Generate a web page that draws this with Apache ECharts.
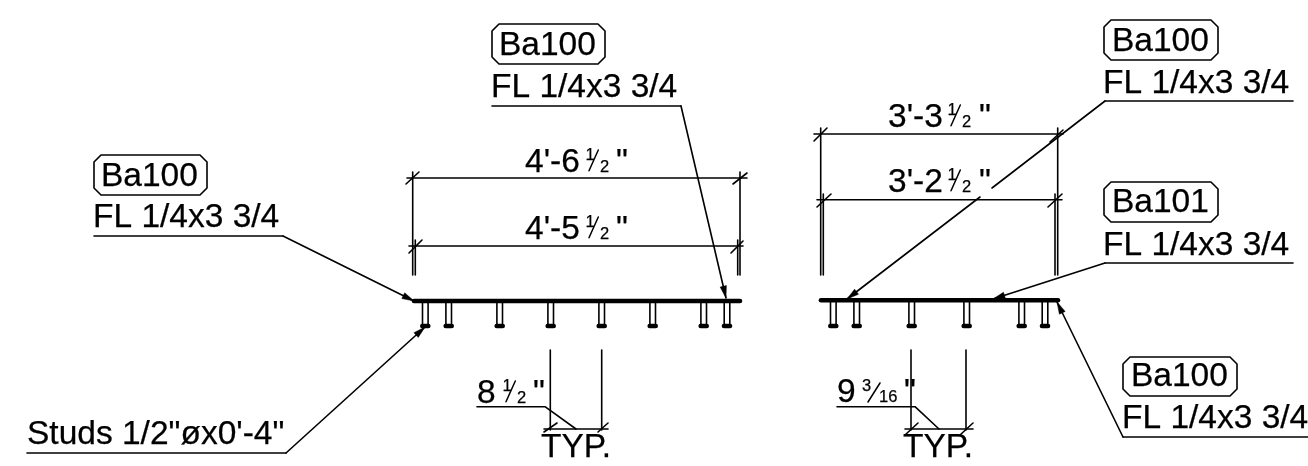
<!DOCTYPE html>
<html><head><meta charset="utf-8">
<style>html,body{margin:0;padding:0;background:#fff}#c{width:1308px;height:466px}</style>
<script src="https://cdn.jsdelivr.net/npm/echarts@6/dist/echarts.min.js"></script>
</head><body><div id="c"></div>
<script>
// Drawing-space readings from the picture: x right, y down.
var largeTexts = [
  [101,187,"Ba100"],[93,228,"FL 1/4x3 3/4"],[27,445,"Studs 1/2\"øx0'-4\""],
  [499,56,"Ba100"],[491,98,"FL 1/4x3 3/4"],
  [1112,52,"Ba100"],[1103,94,"FL 1/4x3 3/4"],
  [1112,213,"Ba101"],[1103,256,"FL 1/4x3 3/4"],
  [1131,387,"Ba100"],[1122,429,"FL 1/4x3 3/4"],
  [525,173,"4'-6"],[616,173,"\""],[525,240,"4'-5"],[616,240,"\""],
  [888,128,"3'-3"],[979,128,"\""],[888,193,"3'-2"],[979,193,"\""],
  [477,404,"8"],[533,404,"\""],[837,403,"9"],[904,403,"\""],
  [541,458,"TYP."],[903,458,"TYP."]
];
var smallTexts = [
  [585.5,161,"1"],[600,173,"2"],[585.5,228,"1"],[600,240,"2"],
  [947.5,116,"1"],[962,128,"2"],[947.5,181,"1"],[962,193,"2"],
  [502.5,392,"1"],[517,404,"2"],
  [862,392,"3"],[879,403,"16"]
];
var labelBoxes = [[94,155,207,195],[492,24,605,64],[1104,20,1218,60],[1104,182,1218,222],[1123,357,1237,396]];
var thinLines = [
  [[94,236],[283,236]],[[27,453],[286,453]],[[492,106],[681,106]],[[1105,101],[1293,101]],[[1105,263],[1293,263]],[[1123,437],[1308,437]],
  [[407,178],[747,178]],[[409,246],[743,246]],
  [[412.7,172],[412.7,275]],[[415.3,240],[415.3,275]],[[740,172],[740,275]],[[737.7,240],[737.7,275]],
  [[406,184],[419,172]],[[409,253],[422,240]],[[733,184],[747,173]],[[731,253],[743,241]],
  [[814,134],[1063,134]],[[817,199.7],[1062,199.7]],
  [[820.7,128],[820.7,275]],[[823.3,194],[823.3,275]],[[1057.7,128],[1057.7,275]],[[1055,194],[1055,275]],
  [[814,141],[827,128]],[[1050,142],[1063,130]],[[817,207],[831,194]],[[1048,207],[1062,194]],
  [[550.3,350],[550.3,430]],[[601.7,350],[601.7,430]],[[544,429],[608,429]],[[544,432],[557,423]],[[598,432],[608,423]],
  [[477,406.7],[545,406.7],[576,429]],
  [[911,350],[911,430]],[[966,350],[966,430]],[[905,429],[973,429]],[[905,435],[918,423]],[[960,435],[973,423]],
  [[837,406.7],[915,406.7],[939,429]],
  [[1105,101],[992,188]]
];
var fractionBars = [
  [[589,170.7],[598.3,150]],[[589,237.7],[598.3,217]],
  [[951,125.7],[960.3,105]],[[951,190.7],[960.3,170]],
  [[506,401.7],[515.3,381]],[[868,402],[880,383]]
];
var leaders = [
  [[283,236],[414,301]],[[286,453],[425,327]],[[681,106],[726,298]],
  [[980,197],[847,299]],[[1105,263],[993,299]],[[1123,437],[1057,302]]
];
var plates = [[[414,301],[740,301]],[[821,300.3],[1058,300.3]]];
var studsLeft = [425.3,448.7,499.7,550.7,601.7,652.7,703.7,727];
var studsRight = [833.3,856.7,911.7,966.7,1021.7,1045];

var INK = '#000';
function lineSeries(list, width){
  return {type:'custom',coordinateSystem:'cartesian2d',clip:false,silent:true,
    data:list.map(function(l){return {value:l[0]};}),
    renderItem:function(p,api){
      return {type:'polyline',shape:{points:list[p.dataIndex].map(function(q){return api.coord(q);})},
        style:{stroke:INK,fill:null,lineWidth:width,lineCap:'round',lineJoin:'round'}};
    }};
}
function textSeries(list,size){
  return {type:'custom',coordinateSystem:'cartesian2d',clip:false,silent:true,
    data:list.map(function(t){return {value:[t[0],t[1]]};}),
    renderItem:function(p,api){
      var t=list[p.dataIndex],c=api.coord([t[0],t[1]]);
      return {type:'text',x:c[0],y:c[1]-0.32*size,
        style:{text:t[2],fontFamily:'"Liberation Sans",Arial,sans-serif',fontSize:size,fill:INK,
          stroke:INK,lineWidth:.25,
          textAlign:'left',textVerticalAlign:'middle',verticalAlign:'middle'}};
    }};
}
function arrowSeries(list){
  return {type:'custom',coordinateSystem:'cartesian2d',clip:false,silent:true,
    data:list.map(function(l){return {value:l[l.length-1]};}),
    renderItem:function(p,api){
      var l=list[p.dataIndex],a=api.coord(l[l.length-2]),b=api.coord(l[l.length-1]);
      var dx=a[0]-b[0],dy=a[1]-b[1],n=Math.hypot(dx,dy);dx/=n;dy/=n;
      var L=12,W=3.2;
      return {type:'polygon',shape:{points:[b,[b[0]+dx*L-dy*W,b[1]+dy*L+dx*W],[b[0]+dx*L+dy*W,b[1]+dy*L-dx*W]]},
        style:{fill:INK,stroke:INK,lineWidth:.5}};
    }};
}
function boxSeries(list){
  return {type:'custom',coordinateSystem:'cartesian2d',clip:false,silent:true,
    data:list.map(function(b){return {value:[b[0],b[1]]};}),
    renderItem:function(p,api){
      var b=list[p.dataIndex],A=api.coord([b[0],b[1]]),B=api.coord([b[2],b[3]]),k=7;
      return {type:'polygon',shape:{points:[[A[0]+k,A[1]],[B[0]-k,A[1]],[B[0],A[1]+k],[B[0],B[1]-k],[B[0]-k,B[1]],[A[0]+k,B[1]],[A[0],B[1]-k],[A[0],A[1]+k]]},
        style:{stroke:INK,fill:null,lineWidth:1.6,lineJoin:'round'}};
    }};
}
function studSeries(xs,y){
  return {type:'custom',coordinateSystem:'cartesian2d',clip:false,silent:true,
    data:xs.map(function(x){return {value:[x,y]};}),
    renderItem:function(p,api){
      var c=api.coord([xs[p.dataIndex],y]),x=c[0],t=c[1];
      function s(pts,w){return {type:'polyline',shape:{points:pts},style:{stroke:INK,fill:null,lineWidth:w,lineCap:'butt'}};}
      return {type:'group',children:[
        s([[x-2.8,t],[x-2.8,t+23]],1.6),s([[x+2.8,t],[x+2.8,t+23]],1.6),
        {type:'polyline',shape:{points:[[x-3,t+24],[x+3,t+24]]},style:{stroke:INK,fill:null,lineWidth:4.6,lineCap:'round'}}
      ]};
    }};
}
var chart = echarts.init(document.getElementById('c'),null,{renderer:'canvas'});
chart.setOption({
  animation:false,backgroundColor:'#fff',
  grid:{left:0,right:0,top:0,bottom:0},
  xAxis:{type:'value',min:0,max:1308,show:false},
  yAxis:{type:'value',min:0,max:466,inverse:true,show:false},
  series:[
    lineSeries(thinLines,1.6),lineSeries(fractionBars,1.5),lineSeries(leaders,1.6),arrowSeries(leaders),
    lineSeries(plates,4.6),studSeries(studsLeft,302),studSeries(studsRight,302),
    boxSeries(labelBoxes),
    textSeries(largeTexts,33.5),textSeries(smallTexts,16.5)
  ]
});
</script></body></html>
